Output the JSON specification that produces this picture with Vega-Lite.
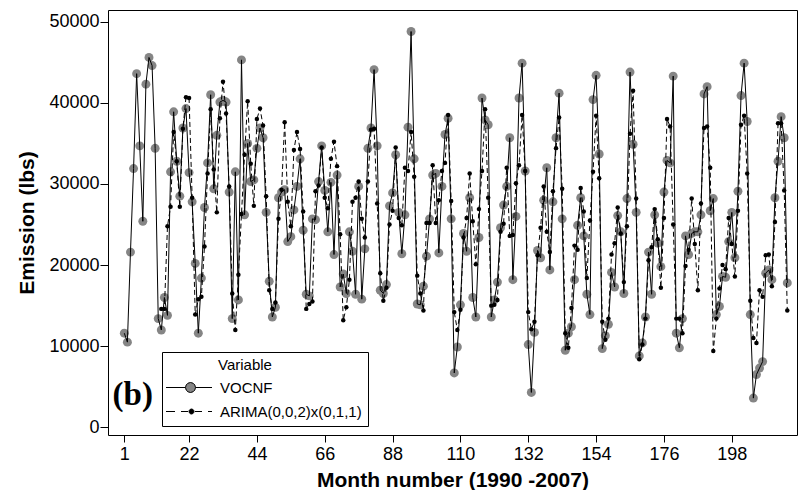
{
"$schema": "https://vega.github.io/schema/vega-lite/v6.json",
"width": 689, "height": 425,
"autosize": {"type": "none"},
"padding": {"left": 108, "top": 10, "right": 3, "bottom": 55},
"background": "white",
"config": {
  "view": {"stroke": "black", "strokeWidth": 1},
  "axis": {"grid": false, "domain": false, "tickColor": "black", "labelColor": "black", "titleColor": "black",
           "labelFont": "Liberation Sans", "labelFontSize": 18, "titleFont": "Liberation Sans", "titleFontSize": 21, "titleFontWeight": "bold"}
},
"data": {"values": [
{"m":1,"VOCNF":11600},{"m":2,"VOCNF":10500},{"m":3,"VOCNF":21600},{"m":4,"VOCNF":31900},{"m":5,"VOCNF":43600},{"m":6,"VOCNF":34700},{"m":7,"VOCNF":25400},{"m":8,"VOCNF":42300},{"m":9,"VOCNF":45600},{"m":10,"VOCNF":44600},{"m":11,"VOCNF":34400},{"m":12,"VOCNF":13400},
{"m":13,"VOCNF":12000,"ARIMA(0,0,2)x(0,1,1)":14600},{"m":14,"VOCNF":16000,"ARIMA(0,0,2)x(0,1,1)":14600},{"m":15,"VOCNF":13800,"ARIMA(0,0,2)x(0,1,1)":24800},{"m":16,"VOCNF":31500,"ARIMA(0,0,2)x(0,1,1)":27200},{"m":17,"VOCNF":38900,"ARIMA(0,0,2)x(0,1,1)":36400},{"m":18,"VOCNF":32800,"ARIMA(0,0,2)x(0,1,1)":32800},{"m":19,"VOCNF":28500,"ARIMA(0,0,2)x(0,1,1)":27200},{"m":20,"VOCNF":36900,"ARIMA(0,0,2)x(0,1,1)":36800},{"m":21,"VOCNF":39300,"ARIMA(0,0,2)x(0,1,1)":40700},{"m":22,"VOCNF":31400,"ARIMA(0,0,2)x(0,1,1)":40600},{"m":23,"VOCNF":27800,"ARIMA(0,0,2)x(0,1,1)":28300},{"m":24,"VOCNF":20200,"ARIMA(0,0,2)x(0,1,1)":13900},
{"m":25,"VOCNF":11600,"ARIMA(0,0,2)x(0,1,1)":15800},{"m":26,"VOCNF":18400,"ARIMA(0,0,2)x(0,1,1)":16100},{"m":27,"VOCNF":27100,"ARIMA(0,0,2)x(0,1,1)":22300},{"m":28,"VOCNF":32600,"ARIMA(0,0,2)x(0,1,1)":31300},{"m":29,"VOCNF":41000,"ARIMA(0,0,2)x(0,1,1)":39200},{"m":30,"VOCNF":29400,"ARIMA(0,0,2)x(0,1,1)":31800},{"m":31,"VOCNF":36000,"ARIMA(0,0,2)x(0,1,1)":26500},{"m":32,"VOCNF":40100,"ARIMA(0,0,2)x(0,1,1)":38100},{"m":33,"VOCNF":40300,"ARIMA(0,0,2)x(0,1,1)":42600},{"m":34,"VOCNF":40100,"ARIMA(0,0,2)x(0,1,1)":38700},{"m":35,"VOCNF":29000,"ARIMA(0,0,2)x(0,1,1)":29700},{"m":36,"VOCNF":13400,"ARIMA(0,0,2)x(0,1,1)":16500},
{"m":37,"VOCNF":31500,"ARIMA(0,0,2)x(0,1,1)":12000},{"m":38,"VOCNF":15700,"ARIMA(0,0,2)x(0,1,1)":18800},{"m":39,"VOCNF":45300,"ARIMA(0,0,2)x(0,1,1)":26300},{"m":40,"VOCNF":26200,"ARIMA(0,0,2)x(0,1,1)":33600},{"m":41,"VOCNF":35000,"ARIMA(0,0,2)x(0,1,1)":40200},{"m":42,"VOCNF":30300,"ARIMA(0,0,2)x(0,1,1)":32500},{"m":43,"VOCNF":30500,"ARIMA(0,0,2)x(0,1,1)":27300},{"m":44,"VOCNF":34400,"ARIMA(0,0,2)x(0,1,1)":38000},{"m":45,"VOCNF":36900,"ARIMA(0,0,2)x(0,1,1)":39300},{"m":46,"VOCNF":35700,"ARIMA(0,0,2)x(0,1,1)":37200},{"m":47,"VOCNF":26500,"ARIMA(0,0,2)x(0,1,1)":28500},{"m":48,"VOCNF":18000,"ARIMA(0,0,2)x(0,1,1)":16900},
{"m":49,"VOCNF":13600,"ARIMA(0,0,2)x(0,1,1)":14600},{"m":50,"VOCNF":14800,"ARIMA(0,0,2)x(0,1,1)":15400},{"m":51,"VOCNF":28300,"ARIMA(0,0,2)x(0,1,1)":25700},{"m":52,"VOCNF":29000,"ARIMA(0,0,2)x(0,1,1)":29300},{"m":53,"VOCNF":29300,"ARIMA(0,0,2)x(0,1,1)":37600},{"m":54,"VOCNF":22900,"ARIMA(0,0,2)x(0,1,1)":27800},{"m":55,"VOCNF":23500,"ARIMA(0,0,2)x(0,1,1)":24800},{"m":56,"VOCNF":26800,"ARIMA(0,0,2)x(0,1,1)":34200},{"m":57,"VOCNF":29700,"ARIMA(0,0,2)x(0,1,1)":36400},{"m":58,"VOCNF":33100,"ARIMA(0,0,2)x(0,1,1)":34300},{"m":59,"VOCNF":24300,"ARIMA(0,0,2)x(0,1,1)":26600},{"m":60,"VOCNF":16400,"ARIMA(0,0,2)x(0,1,1)":14600},
{"m":61,"VOCNF":16200,"ARIMA(0,0,2)x(0,1,1)":15200},{"m":62,"VOCNF":25700,"ARIMA(0,0,2)x(0,1,1)":15500},{"m":63,"VOCNF":25600,"ARIMA(0,0,2)x(0,1,1)":29100},{"m":64,"VOCNF":30300,"ARIMA(0,0,2)x(0,1,1)":29800},{"m":65,"VOCNF":34700,"ARIMA(0,0,2)x(0,1,1)":34500},{"m":66,"VOCNF":29200,"ARIMA(0,0,2)x(0,1,1)":28300},{"m":67,"VOCNF":24100,"ARIMA(0,0,2)x(0,1,1)":27000},{"m":68,"VOCNF":30200,"ARIMA(0,0,2)x(0,1,1)":33100},{"m":69,"VOCNF":21300,"ARIMA(0,0,2)x(0,1,1)":35200},{"m":70,"VOCNF":31100,"ARIMA(0,0,2)x(0,1,1)":32200},{"m":71,"VOCNF":17300,"ARIMA(0,0,2)x(0,1,1)":23800},{"m":72,"VOCNF":18900,"ARIMA(0,0,2)x(0,1,1)":13200},
{"m":73,"VOCNF":16500,"ARIMA(0,0,2)x(0,1,1)":14800},{"m":74,"VOCNF":24100,"ARIMA(0,0,2)x(0,1,1)":18200},{"m":75,"VOCNF":21700,"ARIMA(0,0,2)x(0,1,1)":27800},{"m":76,"VOCNF":16400,"ARIMA(0,0,2)x(0,1,1)":28300},{"m":77,"VOCNF":29700,"ARIMA(0,0,2)x(0,1,1)":30300},{"m":78,"VOCNF":15800,"ARIMA(0,0,2)x(0,1,1)":25700},{"m":79,"VOCNF":22000,"ARIMA(0,0,2)x(0,1,1)":23400},{"m":80,"VOCNF":34400,"ARIMA(0,0,2)x(0,1,1)":30300},{"m":81,"VOCNF":36900,"ARIMA(0,0,2)x(0,1,1)":36700},{"m":82,"VOCNF":44100,"ARIMA(0,0,2)x(0,1,1)":36800},{"m":83,"VOCNF":34700,"ARIMA(0,0,2)x(0,1,1)":27600},{"m":84,"VOCNF":16900,"ARIMA(0,0,2)x(0,1,1)":19000},
{"m":85,"VOCNF":16500,"ARIMA(0,0,2)x(0,1,1)":15600},{"m":86,"VOCNF":17600,"ARIMA(0,0,2)x(0,1,1)":17200},{"m":87,"VOCNF":27300,"ARIMA(0,0,2)x(0,1,1)":25000},{"m":88,"VOCNF":28900,"ARIMA(0,0,2)x(0,1,1)":26700},{"m":89,"VOCNF":33600,"ARIMA(0,0,2)x(0,1,1)":34500},{"m":90,"VOCNF":26500,"ARIMA(0,0,2)x(0,1,1)":25800},{"m":91,"VOCNF":21400,"ARIMA(0,0,2)x(0,1,1)":24900},{"m":92,"VOCNF":26200,"ARIMA(0,0,2)x(0,1,1)":32000},{"m":93,"VOCNF":37000,"ARIMA(0,0,2)x(0,1,1)":31600},{"m":94,"VOCNF":48800,"ARIMA(0,0,2)x(0,1,1)":36400},{"m":95,"VOCNF":33100,"ARIMA(0,0,2)x(0,1,1)":30900},{"m":96,"VOCNF":15200,"ARIMA(0,0,2)x(0,1,1)":18700},
{"m":97,"VOCNF":15100,"ARIMA(0,0,2)x(0,1,1)":16500},{"m":98,"VOCNF":17400,"ARIMA(0,0,2)x(0,1,1)":14400},{"m":99,"VOCNF":21100,"ARIMA(0,0,2)x(0,1,1)":25200},{"m":100,"VOCNF":25700,"ARIMA(0,0,2)x(0,1,1)":25200},{"m":101,"VOCNF":31100,"ARIMA(0,0,2)x(0,1,1)":32300},{"m":102,"VOCNF":31300,"ARIMA(0,0,2)x(0,1,1)":25200},{"m":103,"VOCNF":21500,"ARIMA(0,0,2)x(0,1,1)":28000},{"m":104,"VOCNF":29700,"ARIMA(0,0,2)x(0,1,1)":31600},{"m":105,"VOCNF":36100,"ARIMA(0,0,2)x(0,1,1)":32600},{"m":106,"VOCNF":38100,"ARIMA(0,0,2)x(0,1,1)":38500},{"m":107,"VOCNF":25700,"ARIMA(0,0,2)x(0,1,1)":27900},{"m":108,"VOCNF":6700,"ARIMA(0,0,2)x(0,1,1)":14200},
{"m":109,"VOCNF":9900,"ARIMA(0,0,2)x(0,1,1)":12000},{"m":110,"VOCNF":15100,"ARIMA(0,0,2)x(0,1,1)":14500},{"m":111,"VOCNF":23900,"ARIMA(0,0,2)x(0,1,1)":23400},{"m":112,"VOCNF":21700,"ARIMA(0,0,2)x(0,1,1)":25800},{"m":113,"VOCNF":28300,"ARIMA(0,0,2)x(0,1,1)":31300},{"m":114,"VOCNF":16000,"ARIMA(0,0,2)x(0,1,1)":25400},{"m":115,"VOCNF":13600,"ARIMA(0,0,2)x(0,1,1)":20100},{"m":116,"VOCNF":23400,"ARIMA(0,0,2)x(0,1,1)":26900},{"m":117,"VOCNF":40600,"ARIMA(0,0,2)x(0,1,1)":31600},{"m":118,"VOCNF":37900,"ARIMA(0,0,2)x(0,1,1)":39200},{"m":119,"VOCNF":37300,"ARIMA(0,0,2)x(0,1,1)":28300},{"m":120,"VOCNF":13600,"ARIMA(0,0,2)x(0,1,1)":15000},
{"m":121,"VOCNF":15700,"ARIMA(0,0,2)x(0,1,1)":15100},{"m":122,"VOCNF":17900,"ARIMA(0,0,2)x(0,1,1)":15700},{"m":123,"VOCNF":24600,"ARIMA(0,0,2)x(0,1,1)":24100},{"m":124,"VOCNF":27400,"ARIMA(0,0,2)x(0,1,1)":25100},{"m":125,"VOCNF":29700,"ARIMA(0,0,2)x(0,1,1)":32000},{"m":126,"VOCNF":35700,"ARIMA(0,0,2)x(0,1,1)":23600},{"m":127,"VOCNF":18200,"ARIMA(0,0,2)x(0,1,1)":23700},{"m":128,"VOCNF":26000,"ARIMA(0,0,2)x(0,1,1)":30100},{"m":129,"VOCNF":40600,"ARIMA(0,0,2)x(0,1,1)":32300},{"m":130,"VOCNF":44900,"ARIMA(0,0,2)x(0,1,1)":38500},{"m":131,"VOCNF":31600,"ARIMA(0,0,2)x(0,1,1)":31600},{"m":132,"VOCNF":10200,"ARIMA(0,0,2)x(0,1,1)":14200},
{"m":133,"VOCNF":4300,"ARIMA(0,0,2)x(0,1,1)":12100},{"m":134,"VOCNF":11700,"ARIMA(0,0,2)x(0,1,1)":13000},{"m":135,"VOCNF":21800,"ARIMA(0,0,2)x(0,1,1)":21200},{"m":136,"VOCNF":20900,"ARIMA(0,0,2)x(0,1,1)":24600},{"m":137,"VOCNF":28000,"ARIMA(0,0,2)x(0,1,1)":29700},{"m":138,"VOCNF":32000,"ARIMA(0,0,2)x(0,1,1)":24100},{"m":139,"VOCNF":19400,"ARIMA(0,0,2)x(0,1,1)":21600},{"m":140,"VOCNF":27800,"ARIMA(0,0,2)x(0,1,1)":29100},{"m":141,"VOCNF":35700,"ARIMA(0,0,2)x(0,1,1)":34400},{"m":142,"VOCNF":41200,"ARIMA(0,0,2)x(0,1,1)":38200},{"m":143,"VOCNF":25700,"ARIMA(0,0,2)x(0,1,1)":29400},{"m":144,"VOCNF":9500,"ARIMA(0,0,2)x(0,1,1)":11600},
{"m":145,"VOCNF":11600,"ARIMA(0,0,2)x(0,1,1)":9800},{"m":146,"VOCNF":12400,"ARIMA(0,0,2)x(0,1,1)":14700},{"m":147,"VOCNF":18200,"ARIMA(0,0,2)x(0,1,1)":22400},{"m":148,"VOCNF":24900,"ARIMA(0,0,2)x(0,1,1)":21900},{"m":149,"VOCNF":28300,"ARIMA(0,0,2)x(0,1,1)":29500},{"m":150,"VOCNF":23600,"ARIMA(0,0,2)x(0,1,1)":26600},{"m":151,"VOCNF":16400,"ARIMA(0,0,2)x(0,1,1)":18400},{"m":152,"VOCNF":13900,"ARIMA(0,0,2)x(0,1,1)":25500},{"m":153,"VOCNF":40400,"ARIMA(0,0,2)x(0,1,1)":31500},{"m":154,"VOCNF":43400,"ARIMA(0,0,2)x(0,1,1)":38400},{"m":155,"VOCNF":33700,"ARIMA(0,0,2)x(0,1,1)":30700},{"m":156,"VOCNF":9700,"ARIMA(0,0,2)x(0,1,1)":13000},
{"m":157,"VOCNF":11300,"ARIMA(0,0,2)x(0,1,1)":10800},{"m":158,"VOCNF":12700,"ARIMA(0,0,2)x(0,1,1)":13400},{"m":159,"VOCNF":19100,"ARIMA(0,0,2)x(0,1,1)":21300},{"m":160,"VOCNF":17300,"ARIMA(0,0,2)x(0,1,1)":22700},{"m":161,"VOCNF":26100,"ARIMA(0,0,2)x(0,1,1)":27100},{"m":162,"VOCNF":24100,"ARIMA(0,0,2)x(0,1,1)":23900},{"m":163,"VOCNF":16500,"ARIMA(0,0,2)x(0,1,1)":17900},{"m":164,"VOCNF":28200,"ARIMA(0,0,2)x(0,1,1)":24800},{"m":165,"VOCNF":43800,"ARIMA(0,0,2)x(0,1,1)":36200},{"m":166,"VOCNF":34900,"ARIMA(0,0,2)x(0,1,1)":41500},{"m":167,"VOCNF":26500,"ARIMA(0,0,2)x(0,1,1)":28200},{"m":168,"VOCNF":8800,"ARIMA(0,0,2)x(0,1,1)":8400},
{"m":169,"VOCNF":10400,"ARIMA(0,0,2)x(0,1,1)":10200},{"m":170,"VOCNF":13600,"ARIMA(0,0,2)x(0,1,1)":13400},{"m":171,"VOCNF":21600,"ARIMA(0,0,2)x(0,1,1)":20600},{"m":172,"VOCNF":16400,"ARIMA(0,0,2)x(0,1,1)":22200},{"m":173,"VOCNF":26200,"ARIMA(0,0,2)x(0,1,1)":26900},{"m":174,"VOCNF":22700,"ARIMA(0,0,2)x(0,1,1)":23200},{"m":175,"VOCNF":19800,"ARIMA(0,0,2)x(0,1,1)":17200},{"m":176,"VOCNF":29000,"ARIMA(0,0,2)x(0,1,1)":25800},{"m":177,"VOCNF":32900,"ARIMA(0,0,2)x(0,1,1)":38000},{"m":178,"VOCNF":32600,"ARIMA(0,0,2)x(0,1,1)":37100},{"m":179,"VOCNF":43300,"ARIMA(0,0,2)x(0,1,1)":25000},{"m":180,"VOCNF":11600,"ARIMA(0,0,2)x(0,1,1)":13400},
{"m":181,"VOCNF":9800,"ARIMA(0,0,2)x(0,1,1)":13400},{"m":182,"VOCNF":13400,"ARIMA(0,0,2)x(0,1,1)":11600},{"m":183,"VOCNF":23600,"ARIMA(0,0,2)x(0,1,1)":19900},{"m":184,"VOCNF":21300,"ARIMA(0,0,2)x(0,1,1)":21900},{"m":185,"VOCNF":23900,"ARIMA(0,0,2)x(0,1,1)":28200},{"m":186,"VOCNF":24100,"ARIMA(0,0,2)x(0,1,1)":22600},{"m":187,"VOCNF":24100,"ARIMA(0,0,2)x(0,1,1)":16900},{"m":188,"VOCNF":26200,"ARIMA(0,0,2)x(0,1,1)":27600},{"m":189,"VOCNF":41100,"ARIMA(0,0,2)x(0,1,1)":36900},{"m":190,"VOCNF":42000,"ARIMA(0,0,2)x(0,1,1)":37100},{"m":191,"VOCNF":26700,"ARIMA(0,0,2)x(0,1,1)":32000},{"m":192,"VOCNF":28200,"ARIMA(0,0,2)x(0,1,1)":9400},
{"m":193,"VOCNF":13900,"ARIMA(0,0,2)x(0,1,1)":13400},{"m":194,"VOCNF":14900,"ARIMA(0,0,2)x(0,1,1)":17100},{"m":195,"VOCNF":18600,"ARIMA(0,0,2)x(0,1,1)":20000},{"m":196,"VOCNF":18500,"ARIMA(0,0,2)x(0,1,1)":19500},{"m":197,"VOCNF":22900,"ARIMA(0,0,2)x(0,1,1)":25800},{"m":198,"VOCNF":26500,"ARIMA(0,0,2)x(0,1,1)":22600},{"m":199,"VOCNF":20900,"ARIMA(0,0,2)x(0,1,1)":18600},{"m":200,"VOCNF":29100,"ARIMA(0,0,2)x(0,1,1)":26700},{"m":201,"VOCNF":40900,"ARIMA(0,0,2)x(0,1,1)":37300},{"m":202,"VOCNF":44900,"ARIMA(0,0,2)x(0,1,1)":38400},{"m":203,"VOCNF":37700,"ARIMA(0,0,2)x(0,1,1)":31300},{"m":204,"VOCNF":13900,"ARIMA(0,0,2)x(0,1,1)":15600},
{"m":205,"VOCNF":3600,"ARIMA(0,0,2)x(0,1,1)":11000},{"m":206,"VOCNF":6500,"ARIMA(0,0,2)x(0,1,1)":10400},{"m":207,"VOCNF":7300,"ARIMA(0,0,2)x(0,1,1)":16900},{"m":208,"VOCNF":8100,"ARIMA(0,0,2)x(0,1,1)":16100},{"m":209,"VOCNF":19000,"ARIMA(0,0,2)x(0,1,1)":21200},{"m":210,"VOCNF":19400,"ARIMA(0,0,2)x(0,1,1)":21300},{"m":211,"VOCNF":18200,"ARIMA(0,0,2)x(0,1,1)":17400},{"m":212,"VOCNF":28300,"ARIMA(0,0,2)x(0,1,1)":25300},{"m":213,"VOCNF":32800,"ARIMA(0,0,2)x(0,1,1)":37500},{"m":214,"VOCNF":38300,"ARIMA(0,0,2)x(0,1,1)":37500},{"m":215,"VOCNF":35700,"ARIMA(0,0,2)x(0,1,1)":29200},{"m":216,"VOCNF":17800,"ARIMA(0,0,2)x(0,1,1)":14400}
]},
"layer": [
  {
    "transform": [
      {"fold": ["VOCNF", "ARIMA(0,0,2)x(0,1,1)"], "as": ["series", "value"]},
      {"filter": "isValid(datum.value)"}
    ],
    "encoding": {
      "x": {"field": "m", "type": "quantitative",
            "scale": {"domain": [-4.29, 219.15], "nice": false, "zero": false},
            "axis": {"values": [1,22,44,66,88,110,132,154,176,198], "title": "Month number (1990 -2007)", "tickSize": 7, "labelPadding": 3, "titlePadding": 6, "format": "d"}},
      "y": {"field": "value", "type": "quantitative",
            "scale": {"domain": [-950, 51450], "nice": false, "zero": false},
            "axis": {"values": [0,10000,20000,30000,40000,50000], "title": "Emission (lbs)", "tickSize": 8, "labelPadding": 1, "titlePadding": 11, "format": "d"}}
    },
    "layer": [
      {"transform": [{"filter": "datum.series == 'VOCNF'"}],
       "mark": {"type": "point", "filled": true, "fill": "#858585", "size": 80, "opacity": 1, "strokeWidth": 0}},
      {"transform": [{"filter": "datum.series == 'VOCNF'"}],
       "mark": {"type": "line", "color": "black", "strokeWidth": 1}},
      {"transform": [{"filter": "datum.series != 'VOCNF'"}],
       "mark": {"type": "line", "color": "black", "strokeWidth": 1, "strokeDash": [5, 3]}},
      {"transform": [{"filter": "datum.series != 'VOCNF'"}],
       "mark": {"type": "point", "filled": true, "color": "black", "size": 20, "opacity": 1}},
      {"transform": [{"filter": "datum.m < -100"}],
       "mark": {"type": "point", "filled": true, "strokeWidth": 1},
       "encoding": {
         "shape": {"field": "series", "type": "nominal",
           "scale": {"domain": ["VOCNF", "ARIMA(0,0,2)x(0,1,1)"],
                     "range": ["M-1.9,0L2,0M4,0L7.3,0M4,0L3.866,0.5L3.5,0.866L3,1L2.5,0.866L2.134,0.5L2,0L2.134,-0.5L2.5,-0.866L3,-1L3.5,-0.866L3.866,-0.5Z",
                               "M-1.9,0L-0.1,0M1.1,0L2.5,0M3.9,0L5.3,0M6.5,0L7.3,0M3.7,0L3.633,0.25L3.45,0.433L3.2,0.5L2.95,0.433L2.767,0.25L2.7,0L2.767,-0.25L2.95,-0.433L3.2,-0.5L3.45,-0.433L3.633,-0.25Z"]},
           "legend": {"title": "\u200b\u00a0\u00a0\u00a0\u00a0\u00a0\u00a0\u00a0\u00a0\u00a0\u00a0\u00a0\u00a0Variable",
                      "orient": "none", "legendX": 54, "legendY": 342,
                      "padding": 6, "strokeColor": "black", "fillColor": "white",
                      "symbolSize": 100, "symbolStrokeWidth": 1, "symbolOpacity": 1,
                      "labelOffset": 37, "rowPadding": 8, "titlePadding": 7, "labelLimit": 300,
                      "labelFont": "Liberation Sans", "labelFontSize": 15, "labelColor": "black",
                      "titleFont": "Liberation Sans", "titleFontSize": 15, "titleFontWeight": "normal", "titleColor": "black"}},
         "fill": {"field": "series", "type": "nominal",
           "scale": {"domain": ["VOCNF", "ARIMA(0,0,2)x(0,1,1)"], "range": ["#858585", "black"]},
           "legend": {"title": "\u200b\u00a0\u00a0\u00a0\u00a0\u00a0\u00a0\u00a0\u00a0\u00a0\u00a0\u00a0\u00a0Variable",
                      "orient": "none", "legendX": 54, "legendY": 342,
                      "padding": 6, "strokeColor": "black", "fillColor": "white",
                      "symbolSize": 100, "symbolStrokeWidth": 1, "symbolOpacity": 1,
                      "labelOffset": 37, "rowPadding": 8, "titlePadding": 7, "labelLimit": 300,
                      "labelFont": "Liberation Sans", "labelFontSize": 15, "labelColor": "black",
                      "titleFont": "Liberation Sans", "titleFontSize": 15, "titleFontWeight": "normal", "titleColor": "black"}},
         "stroke": {"field": "series", "type": "nominal",
           "scale": {"domain": ["VOCNF", "ARIMA(0,0,2)x(0,1,1)"], "range": ["black", "black"]},
           "legend": {"title": "\u200b\u00a0\u00a0\u00a0\u00a0\u00a0\u00a0\u00a0\u00a0\u00a0\u00a0\u00a0\u00a0Variable",
                      "orient": "none", "legendX": 54, "legendY": 342,
                      "padding": 6, "strokeColor": "black", "fillColor": "white",
                      "symbolSize": 100, "symbolStrokeWidth": 1, "symbolOpacity": 1,
                      "labelOffset": 37, "rowPadding": 8, "titlePadding": 7, "labelLimit": 300,
                      "labelFont": "Liberation Sans", "labelFontSize": 15, "labelColor": "black",
                      "titleFont": "Liberation Sans", "titleFontSize": 15, "titleFontWeight": "normal", "titleColor": "black"}}
       }}
    ]
  },
  {
    "data": {"values": [{"tag": "(b)"}]},
    "mark": {"type": "text", "font": "Liberation Serif", "fontSize": 33, "fontWeight": "bold", "align": "left", "baseline": "alphabetic", "color": "black"},
    "encoding": {
      "x": {"datum": -2.8, "type": "quantitative"},
      "y": {"datum": 2750, "type": "quantitative"},
      "text": {"field": "tag"}
    }
  }
]
}
